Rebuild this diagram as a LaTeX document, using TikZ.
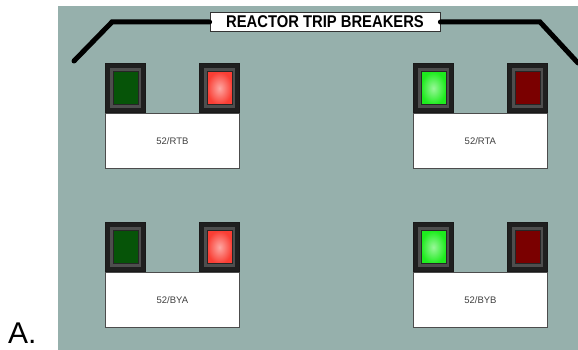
\documentclass[tikz,border=0pt]{standalone}
\usepackage{fontspec}
\setmainfont{Liberation Sans}
\usetikzlibrary{positioning,calc}
\definecolor{panelgray}{RGB}{150,176,172}
\definecolor{rimgray}{RGB}{78,78,78}
\definecolor{offgreen}{RGB}{6,84,8}
\definecolor{ongreen}{RGB}{30,236,30}
\definecolor{onred}{RGB}{250,62,52}
\definecolor{offred}{RGB}{122,0,0}
\tikzset{
  rail/.style={line width=5pt, line cap=round},
  housing/.style={draw=black!90, fill=black!88, line width=0.6pt,
    minimum width=40pt, minimum height=49pt, inner sep=0pt},
  rim/.style={fill=rimgray, minimum width=31pt, minimum height=40pt, inner sep=0pt},
  lampoff/.style={draw=black!85, line width=0.6pt, fill=#1,
    minimum width=25pt, minimum height=33pt, inner sep=0pt},
  lampon/.style={draw=black!85, line width=0.6pt, inner color=white!55!#1, outer color=#1,
    minimum width=25pt, minimum height=33pt, inner sep=0pt},
  tagbox/.style={draw=black!70, fill=white, line width=0.8pt,
    minimum width=134pt, minimum height=55pt, inner sep=0pt,
    font=\fontsize{9.5}{9.5}\selectfont, text=black!75},
  titlebox/.style={draw=black!80, fill=white, line width=0.8pt,
    minimum width=230pt, minimum height=19pt, inner sep=0pt,
    font=\fontsize{17}{17}\selectfont\bfseries},
}
% name, top left corner of tag, tag text, left lamp, right lamp
\newcommand{\breaker}[5]{%
  \node[tagbox, anchor=north west] (#1) at (#2) {#3};
  \node[housing, anchor=south west] (#1l) at (#1.north west) {};
  \node[housing, anchor=south east] (#1r) at (#1.north east) {};
  \node[rim] at (#1l) {};
  \node[#4] (#1lamp l) at (#1l) {};
  \node[rim] at (#1r) {};
  \node[#5] (#1lamp r) at (#1r) {};
}

\begin{document}
\begin{tikzpicture}[x=1pt, y=-1pt]

  \useasboundingbox (0,0) rectangle (578,350);
  \fill[panelgray] (58,6) rectangle (578,350);

  \node[titlebox] (title) at (325,22) {\scalebox{0.87}[1]{REACTOR TRIP BREAKERS}};
  \draw[rail] (74,61) -- (112,22) -- (title.west);
  \draw[rail] (title.east) -- (540,22) -- (578,63);

  \breaker{rtb}{105,113}{52/RTB}{lampoff=offgreen}{lampon=onred}
  \breaker{rta}{413,113}{52/RTA}{lampon=ongreen}{lampoff=offred}
  \breaker{bya}{105,272}{52/BYA}{lampoff=offgreen}{lampon=onred}
  \breaker{byb}{413,272}{52/BYB}{lampon=ongreen}{lampoff=offred}

  \node[anchor=base west, inner sep=0pt, font=\fontsize{30}{30}\selectfont] (choice) at (8,343) {A.};

\end{tikzpicture}
\end{document}
